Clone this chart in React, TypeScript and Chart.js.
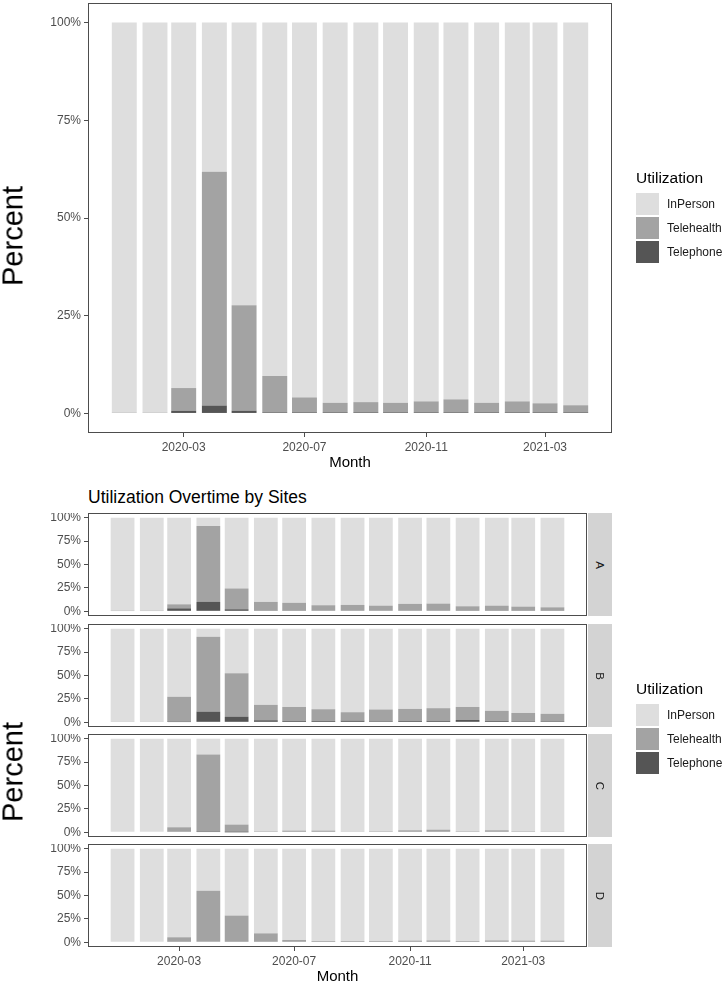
import React, { useEffect, useRef } from "react";
import { Chart, registerables } from "chart.js";

Chart.register(...registerables);

// ---------- data ----------
const months = [
  "2020-01", "2020-02", "2020-03", "2020-04", "2020-05", "2020-06", "2020-07", "2020-08",
  "2020-09", "2020-10", "2020-11", "2020-12", "2021-01", "2021-02", "2021-03", "2021-04",
];
const xTickLabels = ["2020-03", "2020-07", "2020-11", "2021-03"];
const yTickValues = [0, 25, 50, 75, 100];
const seriesNames = ["InPerson", "Telehealth", "Telephone"];
const facetNames = ["A", "B", "C", "D"];

// overall
const allTelephone = [0, 0, 0.7, 2.0, 0.7, 0.3, 0.3, 0.3, 0.3, 0.3, 0.3, 0.3, 0.3, 0.3, 0.3, 0.3];
const allTelehealth = [0.2, 0.2, 5.8, 59.8, 27.0, 9.3, 3.8, 2.4, 2.6, 2.4, 2.8, 3.3, 2.4, 2.8, 2.3, 1.8];
const allInPerson = [99.8, 99.8, 93.5, 38.2, 72.3, 90.4, 95.9, 97.3, 97.1, 97.3, 96.9, 96.4, 97.3, 96.9, 97.4, 97.9];

// site A
const aTelephone = [0, 0, 3.2, 10.0, 2.2, 0.8, 0.8, 0.6, 0.6, 0.6, 0.6, 0.6, 0.5, 0.5, 0.5, 0.5];
const aTelehealth = [0.3, 0.3, 4.3, 81.0, 22.2, 9.2, 8.2, 5.9, 6.2, 5.5, 7.3, 7.6, 4.9, 5.6, 4.5, 3.8];
const aInPerson = [99.7, 99.7, 92.5, 9.0, 75.6, 90.0, 91.0, 93.5, 93.2, 93.9, 92.1, 91.8, 94.6, 93.9, 95.0, 95.7];

// site B
const bTelephone = [0, 0, 0.3, 11.5, 5.8, 2.2, 1.4, 1.4, 1.8, 1.2, 1.4, 1.6, 2.5, 1.4, 1.2, 1.2];
const bTelehealth = [0.8, 0.8, 27.0, 79.9, 46.7, 16.5, 15.1, 12.6, 9.0, 12.5, 13.0, 13.5, 14.0, 10.8, 8.9, 7.8];
const bInPerson = [99.2, 99.2, 72.7, 8.6, 47.5, 81.3, 83.5, 86.0, 89.2, 86.3, 85.6, 84.9, 83.5, 87.8, 89.9, 91.0];

// site C
const cTelephone = [0, 0, 0, 0.3, 0.1, 0, 0, 0, 0, 0, 0, 0, 0, 0, 0, 0];
const cTelehealth = [0, 0, 5.4, 82.7, 8.2, 1.1, 1.8, 1.8, 0.7, 1.1, 2.2, 2.9, 1.1, 2.2, 1.1, 0.4];
const cInPerson = [100, 100, 94.6, 17.0, 91.7, 98.9, 98.2, 98.2, 99.3, 98.9, 97.8, 97.1, 98.9, 97.8, 98.9, 99.6];

// site D
const dTelephone = [0, 0, 0, 0, 0, 0, 0, 0, 0, 0, 0, 0, 0, 0, 0, 0];
const dTelehealth = [0, 0, 5.4, 55.0, 28.6, 9.6, 2.5, 1.4, 1.4, 1.4, 1.8, 2.1, 1.4, 2.1, 1.8, 1.8];
const dInPerson = [100, 100, 94.6, 45.0, 71.4, 90.4, 97.5, 98.6, 98.6, 98.6, 98.2, 97.9, 98.6, 97.9, 98.2, 98.2];

// ---------- styling ----------
const FONT = "'Liberation Sans', Arial, sans-serif";
const COLORS: Record<string, string> = {
  InPerson: "#DEDEDE",
  Telehealth: "#A3A3A3",
  Telephone: "#555555",
};
const AXIS_COLOR = "#4D4D4D";

Chart.defaults.font.family = FONT;

function dayOf(m: string) {
  const [y, mo] = m.split("-").map(Number);
  return Date.UTC(y, mo - 1, 1) / 86400000;
}

const borderPlugin = {
  id: "panelBorder",
  afterDraw(chart: any) {
    const { ctx, chartArea: a } = chart;
    ctx.save();
    ctx.strokeStyle = AXIS_COLOR;
    ctx.lineWidth = 1;
    ctx.strokeRect(
      Math.round(a.left) + 0.5,
      Math.round(a.top) + 0.5,
      Math.round(a.right - a.left) - 1,
      Math.round(a.bottom - a.top) - 1
    );
    ctx.restore();
  },
};

type PanelProps = {
  telephone: number[];
  telehealth: number[];
  inperson: number[];
  top: number;
  height: number;
  rightPad: number;
  showX: boolean;
  xHeight: number;
};

function StackPanel(p: PanelProps) {
  const ref = useRef<HTMLCanvasElement | null>(null);
  useEffect(() => {
    if (!ref.current) return;
    const xs = months.map(dayOf);
    const tickDays = xTickLabels.map(dayOf);
    let minGap = Infinity;
    for (let i = 1; i < xs.length; i++) minGap = Math.min(minGap, xs[i] - xs[i - 1]);
    const half = minGap * 0.45;
    const lo = xs[0] - half;
    const hi = xs[xs.length - 1] + half;
    const pad = (hi - lo) * 0.05;

    const mk = (name: string, vals: number[]) => ({
      label: name,
      data: xs.map((x, i) => ({ x, y: vals[i] })),
      backgroundColor: COLORS[name],
      borderWidth: 0,
      barPercentage: 0.9,
      categoryPercentage: 1,
    });

    const tickGrid = {
      display: true,
      drawOnChartArea: false,
      drawTicks: true,
      tickLength: 4,
      color: AXIS_COLOR,
      lineWidth: 1,
      offset: false,
    };

    const chart = new Chart(ref.current, {
      type: "bar",
      data: {
        datasets: [
          mk("Telephone", p.telephone),
          mk("Telehealth", p.telehealth),
          mk("InPerson", p.inperson),
        ],
      },
      options: {
        animation: false,
        responsive: false,
        maintainAspectRatio: false,
        devicePixelRatio: 1,
        layout: { padding: { left: 0, right: p.rightPad, top: 0, bottom: 0 } },
        plugins: { legend: { display: false }, tooltip: { enabled: false }, title: { display: false } },
        scales: {
          x: {
            type: "linear",
            min: lo - pad,
            max: hi + pad,
            offset: false,
            stacked: true,
            display: p.showX,
            afterBuildTicks: (s: any) => {
              s.ticks = tickDays.map((v) => ({ value: v }));
            },
            afterFit: (s: any) => {
              s.height = p.xHeight;
              s.paddingLeft = 0;
              s.paddingRight = 0;
            },
            ticks: {
              autoSkip: false,
              maxRotation: 0,
              padding: 3,
              color: AXIS_COLOR,
              font: { size: 12, family: FONT },
              callback: (_v: any, i: number) => xTickLabels[i],
            },
            grid: tickGrid,
            border: { display: false },
            title: {
              display: true,
              text: "Month",
              color: "#000000",
              padding: 0,
              font: { size: 15, family: FONT, lineHeight: 1 },
            },
          } as any,
          y: {
            type: "linear",
            min: -5,
            max: 105,
            stacked: true,
            afterBuildTicks: (s: any) => {
              s.ticks = yTickValues.map((v) => ({ value: v }));
            },
            afterFit: (s: any) => {
              s.width = 88;
              s.paddingTop = 0;
              s.paddingBottom = 0;
            },
            ticks: {
              autoSkip: false,
              padding: 3,
              color: AXIS_COLOR,
              font: { size: 12, family: FONT },
              callback: (v: any) => v + "%",
            },
            grid: tickGrid,
            border: { display: false },
          } as any,
        },
      },
      plugins: [borderPlugin],
    });
    return () => chart.destroy();
  }, []);
  return (
    <canvas
      ref={ref}
      width={726}
      height={p.height}
      style={{ position: "absolute", left: 0, top: p.top, width: 726, height: p.height, display: "block" }}
    />
  );
}

function Legend({ top }: { top: number }) {
  return (
    <div style={{ position: "absolute", left: 636, top, fontFamily: FONT }}>
      <div style={{ fontSize: 15.5, color: "#000", height: 18, lineHeight: "18px", marginBottom: 5 }}>Utilization</div>
      {seriesNames.map((n) => (
        <div key={n} style={{ display: "flex", alignItems: "center", height: 24 }}>
          <div style={{ width: 23, height: 22, background: COLORS[n], marginRight: 8 }} />
          <span style={{ fontSize: 12, color: "#1A1A1A" }}>{n}</span>
        </div>
      ))}
    </div>
  );
}

function Strip({ label, top, height }: { label: string; top: number; height: number }) {
  return (
    <div
      style={{
        position: "absolute",
        left: 588,
        top,
        width: 24,
        height,
        background: "#D3D3D3",
        display: "flex",
        alignItems: "center",
        justifyContent: "center",
        fontFamily: FONT,
      }}
    >
      <span style={{ transform: "rotate(90deg)", fontSize: 11.5, color: "#1A1A1A", display: "inline-block" }}>{label}</span>
    </div>
  );
}

function YTitle({ cy }: { cy: number }) {
  return (
    <div
      style={{
        position: "absolute",
        left: 13,
        top: cy,
        transform: "translate(-50%, -50%) rotate(-90deg)",
        fontFamily: FONT,
        fontSize: 29,
        lineHeight: "29px",
        color: "#000",
        whiteSpace: "nowrap",
      }}
    >
      Percent
    </div>
  );
}

export default function App() {
  const facetTops = [513, 624, 734, 844];
  const facetH = 103;
  const facetData = [
    [aTelephone, aTelehealth, aInPerson],
    [bTelephone, bTelehealth, bInPerson],
    [cTelephone, cTelehealth, cInPerson],
    [dTelephone, dTelehealth, dInPerson],
  ];
  return (
    <div style={{ position: "absolute", left: 0, top: 0, width: 726, height: 984, background: "#fff", overflow: "hidden" }}>
      <StackPanel
        telephone={allTelephone}
        telehealth={allTelehealth}
        inperson={allInPerson}
        top={3}
        height={467}
        rightPad={114}
        showX={true}
        xHeight={37}
      />
      <YTitle cy={236} />
      <Legend top={169} />

      <div
        style={{
          position: "absolute",
          left: 88,
          top: 486,
          fontFamily: FONT,
          fontSize: 17.5,
          lineHeight: "22px",
          color: "#000",
          whiteSpace: "nowrap",
        }}
      >
        Utilization Overtime by Sites
      </div>

      {facetData.map((d, i) => {
        const last = i === facetData.length - 1;
        return (
          <StackPanel
            key={facetNames[i]}
            telephone={d[0]}
            telehealth={d[1]}
            inperson={d[2]}
            top={facetTops[i]}
            height={last ? 984 - facetTops[i] : facetH}
            rightPad={139}
            showX={last}
            xHeight={last ? 984 - facetTops[i] - facetH : 0}
          />
        );
      })}
      {facetNames.map((n, i) => (
        <Strip key={n} label={n} top={facetTops[i]} height={facetH} />
      ))}
      <YTitle cy={772} />
      <Legend top={680} />
    </div>
  );
}
